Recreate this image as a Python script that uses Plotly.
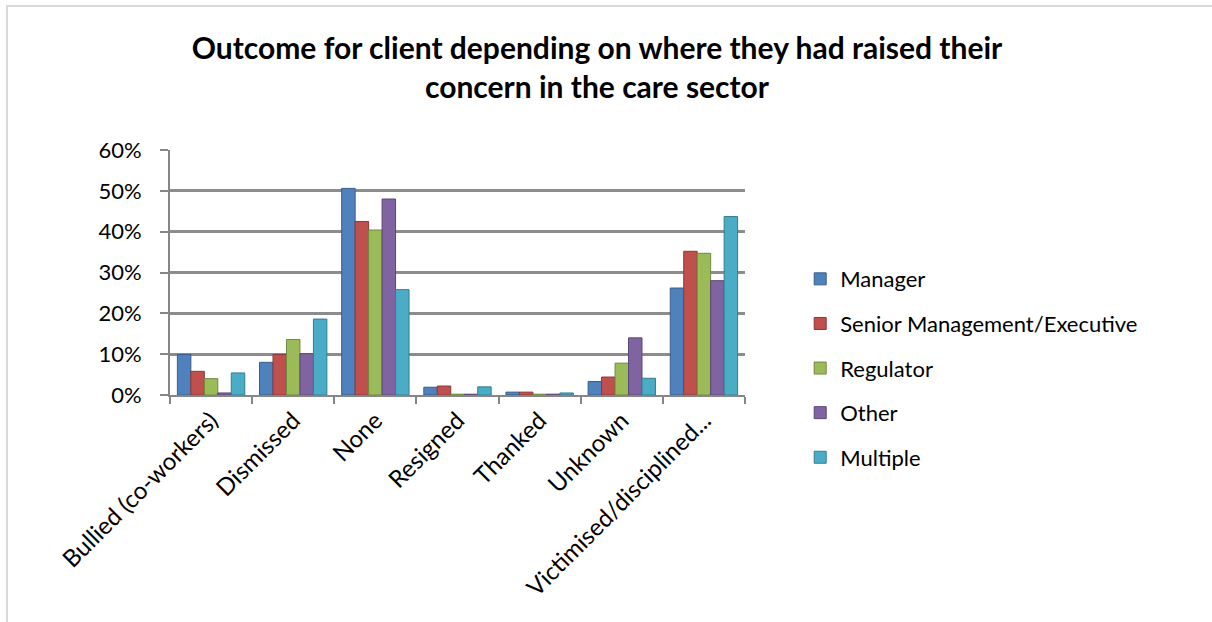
import plotly.graph_objects as go

categories = ["Bullied (co-workers)", "Dismissed", "None", "Resigned", "Thanked", "Unknown", "Victimised/disciplined..."]
series_names = ["Manager", "Senior Management/Executive", "Regulator", "Other", "Multiple"]
manager = [0.099, 0.080, 0.506, 0.019, 0.007, 0.033, 0.262]
senior = [0.058, 0.099, 0.425, 0.022, 0.007, 0.044, 0.352]
regulator = [0.040, 0.136, 0.404, 0.002, 0.002, 0.078, 0.347]
other = [0.005, 0.101, 0.480, 0.002, 0.002, 0.140, 0.280]
multiple = [0.054, 0.186, 0.258, 0.020, 0.005, 0.041, 0.437]
series_values = [manager, senior, regulator, other, multiple]
colors = ["#4F81BD", "#C0504D", "#9BBB59", "#8064A2", "#4BACC6"]
line_colors = ["#385D8A", "#8C3836", "#71893F", "#5C4776", "#357D91"]
y_ticks = [0, 0.1, 0.2, 0.3, 0.4, 0.5, 0.6]
y_tick_labels = ["0%", "10%", "20%", "30%", "40%", "50%", "60%"]

fig = go.Figure()
for name, vals, c, lc in zip(series_names, series_values, colors, line_colors):
    fig.add_trace(go.Bar(
        x=categories, y=vals, name=name, legendgroup=name,
        marker=dict(color=c, line=dict(color=lc, width=1)),
    ))

font_family = "Lato, 'Open Sans', sans-serif"
fig.update_layout(
    width=1212, height=622,
    margin=dict(l=170, r=467, t=150, b=227),
    paper_bgcolor="white", plot_bgcolor="white",
    barmode="group", bargap=0.18, bargroupgap=0,
    font=dict(family=font_family, size=22, color="#000000"),
    title=dict(
        text="<b>Outcome for client depending on where they had raised their<br>concern in the care sector</b>",
        x=0.4926, xref="container", xanchor="center", y=0.905, yref="container", yanchor="top",
        font=dict(size=30, family=font_family, color="#000000"),
    ),
    showlegend=True,
    legend=dict(
        x=1.096, xanchor="left", y=0.11, yanchor="middle",
        font=dict(size=22, family=font_family), tracegroupgap=13,
        itemwidth=30, bgcolor="rgba(0,0,0,0)",
    ),
    xaxis=dict(
        showline=True, linecolor="#868686", linewidth=2,
        ticks="outside", tickson="boundaries", ticklen=7, tickcolor="#868686", tickwidth=2,
        tickangle=-45, tickfont=dict(size=24), showgrid=False,
    ),
    yaxis=dict(
        range=[0, 0.6], tickvals=y_ticks, ticktext=y_tick_labels,
        showline=True, linecolor="#868686", linewidth=2,
        ticks="outside", ticklen=8, tickcolor="#868686", tickwidth=2,
        showgrid=True, gridcolor="#8C8C8C", gridwidth=2.5,
        tickfont=dict(size=22), zeroline=False, ticklabelstandoff=14,
    ),
    shapes=[dict(type="rect", xref="paper", yref="paper",
                 x0=-163/575, x1=1 + 500/575, y0=-260/245, y1=1 + 144/245,
                 line=dict(color="#D9D9D9", width=2), fillcolor="rgba(0,0,0,0)", layer="below")],
)

fig.write_html("out.html")
